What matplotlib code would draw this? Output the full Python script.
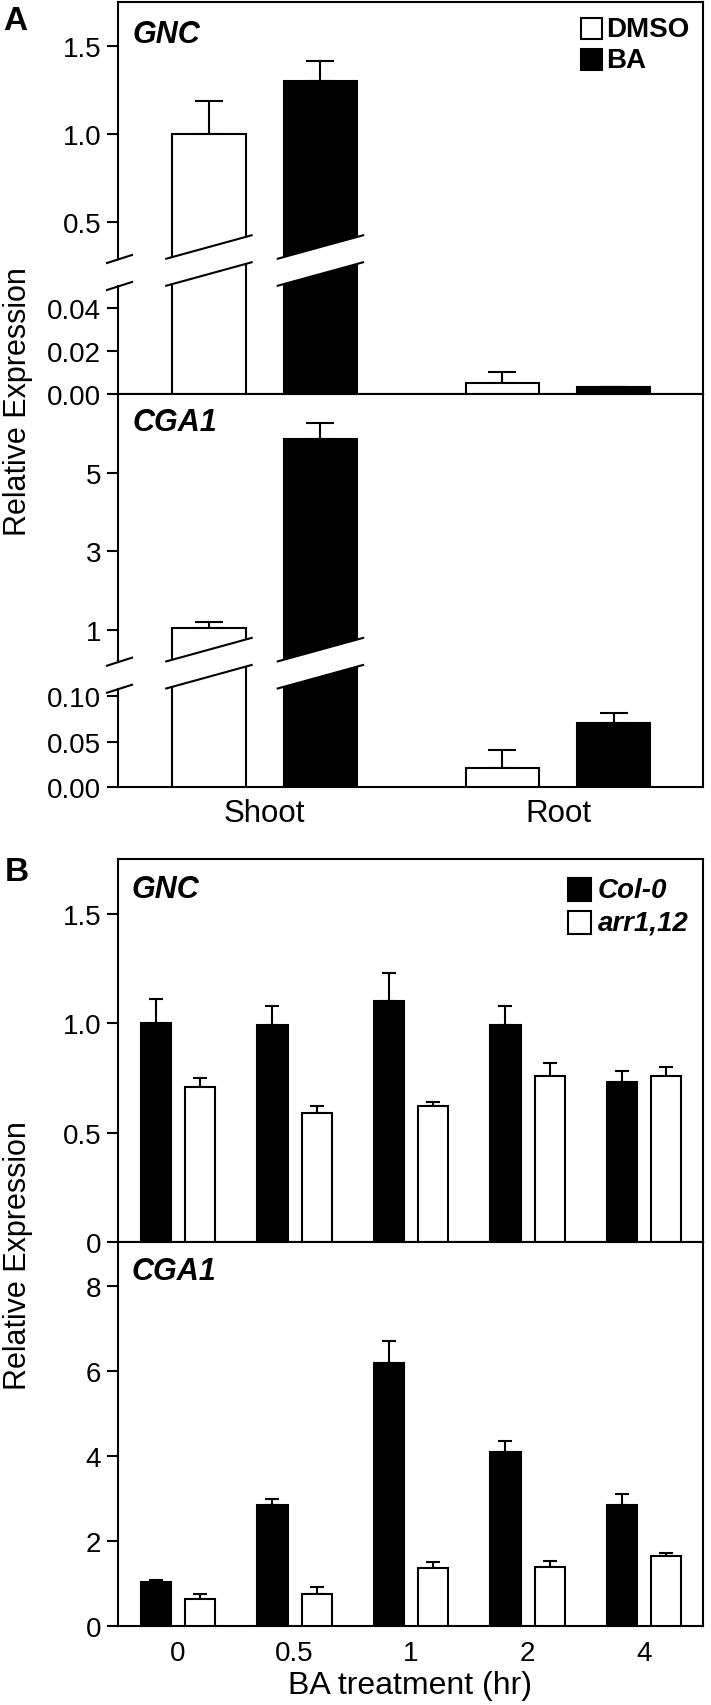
import numpy as np
import matplotlib
matplotlib.use('Agg')
import matplotlib.pyplot as plt
import matplotlib.transforms as mtransforms
from matplotlib.patches import Rectangle, Polygon

plt.rcParams['font.family'] = ['Liberation Sans', 'DejaVu Sans']

# --- panel A: shoot / root, DMSO vs BA ---
tissues = ['Shoot', 'Root']
gnc_dmso = [1.00, 0.0053]
gnc_dmso_err = [0.185, 0.0047]
gnc_ba = [1.30, 0.0033]
gnc_ba_err = [0.11, 0.0]
cga1_dmso = [1.06, 0.021]
cga1_dmso_err = [0.15, 0.020]
cga1_ba = [5.86, 0.070]
cga1_ba_err = [0.41, 0.011]

# --- panel B: BA time course, Col-0 vs arr1,12 ---
hours = ['0', '0.5', '1', '2', '4']
gnc_col = [1.00, 0.99, 1.10, 0.99, 0.73]
gnc_col_err = [0.11, 0.09, 0.13, 0.09, 0.05]
gnc_arr = [0.71, 0.59, 0.62, 0.76, 0.76]
gnc_arr_err = [0.04, 0.03, 0.02, 0.06, 0.04]
cga1_col = [1.03, 2.86, 6.20, 4.09, 2.85]
cga1_col_err = [0.05, 0.14, 0.51, 0.27, 0.25]
cga1_arr = [0.64, 0.76, 1.36, 1.40, 1.65]
cga1_arr_err = [0.11, 0.16, 0.14, 0.13, 0.08]

W, H = 711, 1706
LW = 1.5
fig = plt.figure(figsize=(W / 100, H / 100), dpi=100)


def px(x, y):
    return x / W, 1 - y / H


def add_ax(top, bottom, left=118, right=703):
    ax = fig.add_axes([left / W, 1 - bottom / H, (right - left) / W, (bottom - top) / H])
    for s in ax.spines.values():
        s.set_linewidth(LW)
    ax.tick_params(axis='y', direction='out', length=8, width=LW, pad=4, labelsize=20)
    ax.tick_params(axis='x', length=0, labelsize=22.5, pad=8)
    return ax


def bars(ax, x, a, a_err, b, b_err, colors, off, width, capsize):
    x = np.asarray(x, dtype=float)
    for xs, v, e, c in [(x - off, a, a_err, colors[0]), (x + off, b, b_err, colors[1])]:
        ax.errorbar(xs, v, yerr=[np.zeros(len(v)), e], fmt='none', ecolor='black',
                    elinewidth=LW, capsize=capsize, capthick=LW, zorder=2)
        ax.bar(xs, v, width, color=c, edgecolor='black', linewidth=LW, zorder=3)


def broken_scale(ax, vals, pos):
    fwd = lambda y: np.interp(y, vals, pos)
    inv = lambda p: np.interp(p, pos, vals)
    ax.set_yscale('function', functions=(fwd, inv))
    ax.set_ylim(vals[0], vals[-1])


def draw_break(ax, p_lo, p_hi, spans, h_px, w_px):
    trans = mtransforms.blended_transform_factory(ax.transData, ax.transAxes)
    rise = 24 / h_px
    for xl, xr in spans:
        ax.add_patch(Polygon([(xl, p_lo), (xr, p_lo + rise), (xr, p_hi + rise), (xl, p_hi)],
                             closed=True, facecolor='white', edgecolor='none',
                             transform=trans, zorder=5))
        for p in (p_lo, p_hi):
            ax.plot([xl, xr], [p, p + rise], color='black', lw=LW, transform=trans,
                    zorder=6, solid_capstyle='butt')
    ax.spines['left'].set_visible(False)
    ax.plot([0, 0], [0, p_lo], color='black', lw=LW, transform=ax.transAxes, clip_on=False)
    ax.plot([0, 0], [p_hi, 1], color='black', lw=LW, transform=ax.transAxes, clip_on=False)
    for p in (p_lo, p_hi):
        ax.plot([-11 / w_px, 14 / w_px], [p - 4 / h_px, p + 4 / h_px], color='black', lw=LW,
                transform=ax.transAxes, clip_on=False)


# ================= panel A =================
xa = np.arange(len(tissues))
off_a, w_a = 0.19, 0.25
pad_a = 0.024
spans_a = [(xa[0] - off_a - w_a / 2 - pad_a, xa[0] - off_a + w_a / 2 + pad_a),
           (xa[0] + off_a - w_a / 2 - pad_a, xa[0] + off_a + w_a / 2 + pad_a)]

ax1 = add_ax(3, 395)
bars(ax1, xa, gnc_dmso, gnc_dmso_err, gnc_ba, gnc_ba_err, ['white', 'black'], off_a, w_a, 10)
broken_scale(ax1, [0, 0.05, 0.288, 1.748], [0, 108 / 392, 135 / 392, 1])
ax1.set_yticks([0, 0.02, 0.04, 0.5, 1.0, 1.5])
ax1.set_yticklabels(['0.00', '0.02', '0.04', '0.5', '1.0', '1.5'])
draw_break(ax1, 108 / 392, 135 / 392, spans_a, 392, 585)
ax1.set_xlim(-0.5, 1.494)
ax1.set_xticks([])

ax2 = add_ax(395, 788)
bars(ax2, xa, cga1_dmso, cga1_dmso_err, cga1_ba, cga1_ba_err, ['white', 'black'], off_a, w_a, 10)
broken_scale(ax2, [0, 0.108, 0.196, 7.0], [0, 98 / 392, 125 / 392, 1])
ax2.set_yticks([0, 0.05, 0.10, 1, 3, 5])
ax2.set_yticklabels(['0.00', '0.05', '0.10', '1', '3', '5'])
draw_break(ax2, 98 / 392, 125 / 392, spans_a, 392, 585)
ax2.set_xlim(-0.5, 1.494)
ax2.set_xticks(xa)
ax2.set_xticklabels(tissues)

# ================= panel B =================
xb = np.arange(len(hours))
off_b, w_b = 0.19, 0.26

ax3 = add_ax(860, 1243)
bars(ax3, xb, gnc_col, gnc_col_err, gnc_arr, gnc_arr_err, ['black', 'white'], off_b, w_b, 5)
ax3.set_ylim(0, 1.751)
ax3.set_yticks([0, 0.5, 1.0, 1.5])
ax3.set_yticklabels(['0', '0.5', '1.0', '1.5'])
ax3.set_xlim(-0.515, 4.506)
ax3.set_xticks([])

ax4 = add_ax(1243, 1627)
bars(ax4, xb, cga1_col, cga1_col_err, cga1_arr, cga1_arr_err, ['black', 'white'], off_b, w_b, 5)
ax4.set_ylim(0, 9.04)
ax4.set_yticks([0, 2, 4, 6, 8])
ax4.set_xlim(-0.515, 4.506)
ax4.set_xticks(xb)
ax4.set_xticklabels(hours)
ax4.tick_params(axis='x', labelsize=20, pad=10)

# ================= texts =================
bold = dict(weight='bold')
bi = dict(weight='bold', style='italic')

fig.text(*px(3, 21), 'A', fontsize=24, ha='left', va='center', **bold)
fig.text(*px(5, 873), 'B', fontsize=24, ha='left', va='center', **bold)

for (x, y), name in [((133, 35), 'GNC'), ((133, 423), 'CGA1'),
                     ((132, 890), 'GNC'), ((132, 1272), 'CGA1')]:
    fig.text(*px(x, y), name, fontsize=22, ha='left', va='center', **bi)

fig.text(*px(18, 402), 'Relative Expression', fontsize=22, rotation=90,
         ha='center', va='center')
fig.text(*px(18, 1256), 'Relative Expression', fontsize=22, rotation=90,
         ha='center', va='center')
fig.text(*px(410, 1686), 'BA treatment (hr)', fontsize=23, ha='center', va='center')

# legends (drawn by hand)
legend_a = [('DMSO', 'white', 19), ('BA', 'black', 50)]
for label, color, top in legend_a:
    x0, y0 = px(581, top + 21)
    fig.add_artist(Rectangle((x0, y0), 21 / W, 21 / H, facecolor=color, edgecolor='black',
                             linewidth=LW, transform=fig.transFigure))
    fig.text(*px(606, top + 11), label, fontsize=20, ha='left', va='center', **bold)

legend_b = [('Col-0', 'black', 879), ('arr1,12', 'white', 912)]
for label, color, top in legend_b:
    x0, y0 = px(568, top + 23)
    fig.add_artist(Rectangle((x0, y0), 23 / W, 23 / H, facecolor=color, edgecolor='black',
                             linewidth=LW, transform=fig.transFigure))
    fig.text(*px(598, top + 12), label, fontsize=20, ha='left', va='center', **bi)

fig.savefig('out.png', dpi=100)
